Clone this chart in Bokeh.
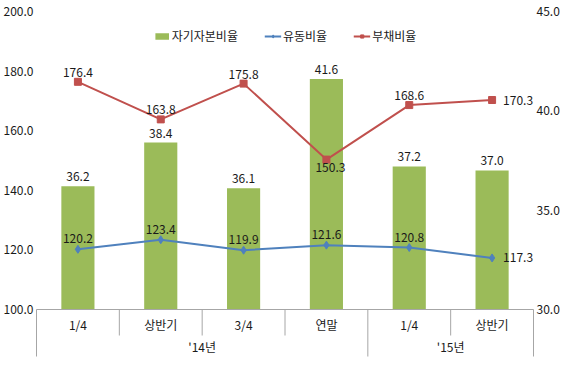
from bokeh.plotting import figure
from bokeh.models import (FactorRange, Range1d, LinearAxis, FixedTicker, NumeralTickFormatter,
                          ColumnDataSource, Label, Legend, LegendItem)
from bokeh.embed import file_html
from bokeh.resources import INLINE
from bokeh.core.properties import value

# ---- data ----
groups = ["'14년", "'14년", "'14년", "'14년", "'15년", "'15년"]
periods = ["1/4", "상반기", "3/4", "연말", "1/4", "상반기"]
equity_ratio = [36.2, 38.4, 36.1, 41.6, 37.2, 37.0]          # 자기자본비율 (right axis)
current_ratio = [120.2, 123.4, 119.9, 121.6, 120.8, 117.3]   # 유동비율 (left axis)
debt_ratio = [176.4, 163.8, 175.8, 150.3, 168.6, 170.3]      # 부채비율 (left axis)
left_ticks = [100, 120, 140, 160, 180, 200]
right_ticks = [30, 35, 40, 45]

FONT = "Noto Sans CJK KR"
GREEN = "#9BBB59"
BLUE = "#4F81BD"
RED = "#C0504D"
GRAY = "#A6A6A6"
TXT = "#1a1a1a"

factors = list(zip(groups, periods))

BORDER_TOP, BORDER_BOTTOM, HEIGHT = 11, 48, 357
p = figure(width=564, height=HEIGHT,
           x_range=FactorRange(*factors, factor_padding=0, group_padding=0, subgroup_padding=0,
                               range_padding=0),
           y_range=Range1d(100, 200),
           output_backend="svg", toolbar_location=None,
           min_border_left=30, min_border_right=31,
           min_border_top=BORDER_TOP, min_border_bottom=BORDER_BOTTOM)
p.outline_line_color = None
p.xgrid.grid_line_color = None
p.ygrid.grid_line_color = None
p.background_fill_color = None
p.border_fill_color = "white"

p.extra_y_ranges = {"right": Range1d(30, 45)}

# axes
yl = p.yaxis[0]
yl.ticker = FixedTicker(ticks=left_ticks)
yl.formatter = NumeralTickFormatter(format="0.0")
yr = LinearAxis(y_range_name="right", ticker=FixedTicker(ticks=right_ticks),
                formatter=NumeralTickFormatter(format="0.0"))
p.add_layout(yr, "right")
for ax in (yl, yr):
    ax.axis_line_color = None
    ax.major_tick_line_color = None
    ax.minor_tick_line_color = None
    ax.major_tick_out = 0
    ax.major_tick_in = 0
    ax.major_label_text_font = FONT
    ax.major_label_text_font_size = "12px"
    ax.major_label_text_color = TXT
    ax.major_label_standoff = 3

xa = p.xaxis[0]
xa.axis_line_color = GRAY
xa.axis_line_width = 1
xa.major_tick_line_color = None
xa.minor_tick_line_color = None
xa.major_tick_out = 0
xa.major_tick_in = 0
xa.major_label_text_font = FONT
xa.major_label_text_font_size = "12px"
xa.major_label_text_color = TXT
xa.group_text_color = None
xa.group_text_font_size = "11px"
xa.separator_line_color = None
xa.major_label_standoff = 6

# bars
src = ColumnDataSource(dict(x=factors, eq=equity_ratio, cur=current_ratio, debt=debt_ratio))
bars = p.vbar(x="x", top="eq", bottom=30, width=0.4, source=src, y_range_name="right",
              fill_color=GREEN, line_color=None)

# lines
cur_line = p.line(x="x", y="cur", source=src, line_color=BLUE, line_width=2)
cur_pts = p.scatter(x="x", y="cur", source=src, marker="diamond", size=8,
                    fill_color=BLUE, line_color=BLUE)
debt_line = p.line(x="x", y="debt", source=src, line_color=RED, line_width=2)
debt_pts = p.scatter(x="x", y="debt", source=src, marker="square", size=7,
                     fill_color=RED, line_color=RED)

lab_kw = dict(text_font=value(FONT), text_font_size="12px", text_color=TXT)

# bar labels
p.text(x=factors, y=equity_ratio, text=[f"{v:.1f}" for v in equity_ratio], y_range_name="right",
       text_align="center", text_baseline="bottom", y_offset=-5, **lab_kw)

# current ratio labels
cur_above = [i for i in range(len(factors)) if i != 5]
p.text(x=[factors[i] for i in cur_above], y=[current_ratio[i] for i in cur_above],
       text=[f"{current_ratio[i]:.1f}" for i in cur_above],
       text_align="center", text_baseline="bottom", y_offset=-6, **lab_kw)
p.text(x=[factors[5]], y=[current_ratio[5]], text=[f"{current_ratio[5]:.1f}"],
       text_align="left", text_baseline="middle", x_offset=11, **lab_kw)

# debt ratio labels
d_above = [0, 1, 2, 4]
p.text(x=[factors[i] for i in d_above], y=[debt_ratio[i] for i in d_above],
       text=[f"{debt_ratio[i]:.1f}" for i in d_above],
       text_align="center", text_baseline="bottom", y_offset=-5, **lab_kw)
p.text(x=[factors[3]], y=[debt_ratio[3]], text=[f"{debt_ratio[3]:.1f}"],
       text_align="center", text_baseline="top", x_offset=4, y_offset=3, **lab_kw)
p.text(x=[factors[5]], y=[debt_ratio[5]], text=[f"{debt_ratio[5]:.1f}"],
       text_align="left", text_baseline="middle", x_offset=11, **lab_kw)

# category separators and group labels below the axis
ppu = (HEIGHT - BORDER_TOP - BORDER_BOTTOM) / 100.0  # pixels per left-axis unit
n = len(factors)
inner = [i for i in range(1, n) if groups[i] == groups[i - 1]]
outer = [0] + [i for i in range(1, n) if groups[i] != groups[i - 1]] + [n]
p.segment(x0=inner, x1=inner, y0=[100] * len(inner), y1=[100 - 26 / ppu] * len(inner),
          line_color=GRAY, line_width=1, level="overlay")
p.segment(x0=outer, x1=outer, y0=[100] * len(outer), y1=[100 - 47 / ppu] * len(outer),
          line_color=GRAY, line_width=1, level="overlay")
group_names = [groups[outer[k]] for k in range(len(outer) - 1)]
group_centers = [(outer[k] + outer[k + 1]) / 2 for k in range(len(outer) - 1)]
p.text(x=group_centers, y=[100 - 37 / ppu] * len(group_centers), text=group_names,
       text_align="center", text_baseline="middle", level="overlay", **lab_kw)

# (%) unit labels
p.add_layout(Label(x=-0.22, y=193.5, text="(%)", text_font=FONT, text_font_size="12px",
                   text_align="center", text_baseline="middle", text_color=TXT))
p.add_layout(Label(x=6.24, y=193.5, text="(%)", text_font=FONT, text_font_size="12px",
                   text_align="center", text_baseline="middle", text_color=TXT))

legend = Legend(items=[LegendItem(label="자기자본비율", renderers=[bars]),
                       LegendItem(label="유동비율", renderers=[cur_line, cur_pts]),
                       LegendItem(label="부채비율", renderers=[debt_line, debt_pts])],
                orientation="horizontal", location="top_center",
                label_text_font=FONT, label_text_font_size="12px", label_text_color=TXT,
                glyph_width=17, glyph_height=8, label_height=12, label_standoff=2,
                spacing=26, padding=0, margin=16,
                border_line_color=None, background_fill_alpha=0)
p.add_layout(legend)

open("out.html", "w").write(file_html(p, INLINE))
